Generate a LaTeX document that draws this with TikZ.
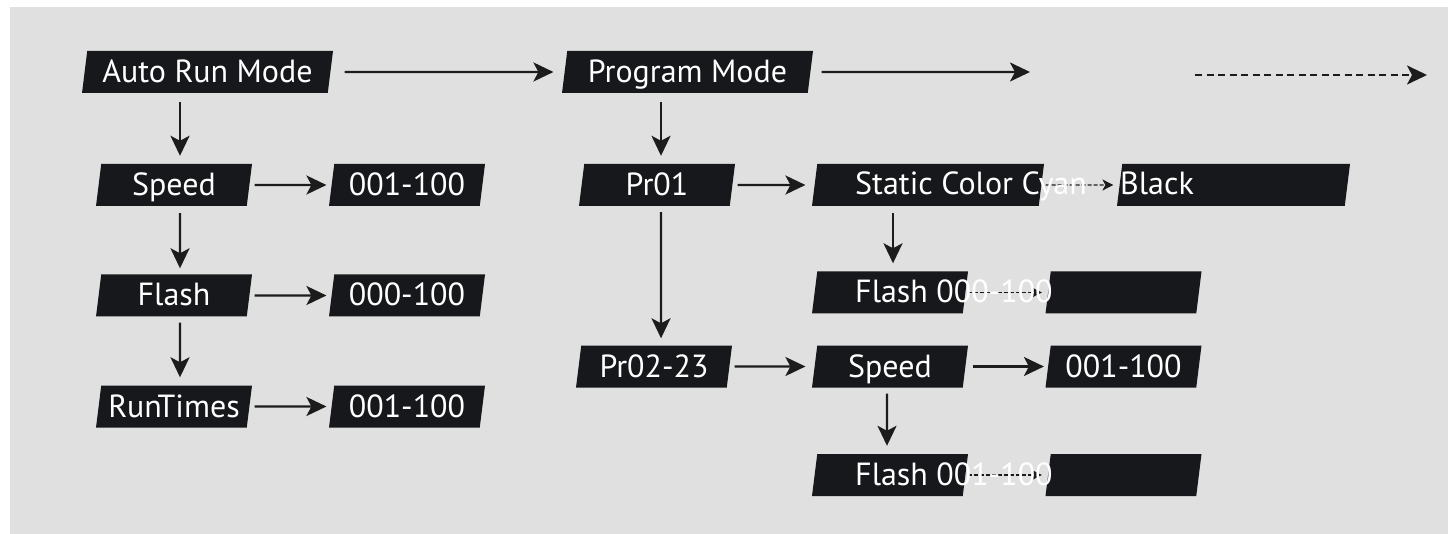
\documentclass[tikz,border=0pt]{standalone}
\usepackage{fontspec}
\setmainfont{PT Sans}
\usetikzlibrary{arrows.meta,shapes.geometric}
\definecolor{bggray}{HTML}{E0E0E0}
\definecolor{boxblack}{HTML}{16181B}
\definecolor{arrowblack}{HTML}{1C1C1C}
\tikzset{
  pbox/.style={trapezium, trapezium left angle=79, trapezium right angle=101,
    trapezium stretches body=true, fill=boxblack, text=white, inner sep=0pt,
    minimum width=156pt, minimum height=42pt,
    font=\fontsize{32}{32}\selectfont, text height=24pt, text depth=3pt},
  ptext/.style={text=white, inner sep=0pt, anchor=west,
    font=\fontsize{32}{32}\selectfont, text height=24pt, text depth=3pt},
  arr/.style={draw=arrowblack, line width=2.3pt,
    -{Stealth[length=20pt,width=19pt,inset=5pt]}},
  minarr/.style={draw=arrowblack, line width=1.4pt, dash pattern=on 4pt off 2pt,
    -{Stealth[length=11pt,width=11pt,inset=3pt]}},
}
\begin{document}
\begin{tikzpicture}[x=1pt, y=-1pt]
    \useasboundingbox (0,0) rectangle (1450,534);
    \fill[white] (0,0) rectangle (1450,534);
    \fill[bggray] (10,7) rectangle (1448,534);
    % auto run column
    \node[pbox, minimum width=251pt] (auto) at (207.5,72) {Auto Run Mode};
    \node[pbox] (spdL) at (174,185) {Speed};
    \node[pbox] (flaL) at (174,295.5) {Flash};
    \node[pbox] (runL) at (174,406.5) {RunTimes};
    \node[pbox] (spdV) at (407,185) {001-100};
    \node[pbox] (flaV) at (407,295.5) {000-100};
    \node[pbox] (runV) at (407,406.5) {001-100};
    % program column
    \node[pbox, minimum width=251pt] (prog) at (687.5,72) {Program Mode};
    \node[pbox] (prA) at (657,185) {Pr01};
    \node[pbox] (prB) at (654,366.5) {Pr02-23};
    \node[pbox, minimum width=232pt] (stat) at (928,185) {};
    \node[pbox, minimum width=233pt] (blk) at (1233.5,185) {};
    \node[pbox] (flaA) at (890,292.5) {};
    \node[pbox] (flaAV) at (1123.5,292.5) {};
    \node[pbox] (spdR) at (890,366.5) {Speed};
    \node[pbox] (spdRV) at (1123.5,366.5) {001-100};
    \node[pbox] (flaB) at (890,475) {};
    \node[pbox] (flaBV) at (1123.5,475) {};
    \coordinate (progEnd) at (1030,72);
    \coordinate (nextA) at (1195,75);
    \coordinate (nextB) at (1427,75);
    % top row
    \draw[arr, shorten <=14pt, shorten >=11pt] (auto) -- (prog);
    \draw[arr, shorten <=11pt] (prog) -- (progEnd);
    \draw[arr, dash pattern=on 7pt off 4.5pt] (nextA) -- (nextB);
    % left arrows
    \draw[arr, shorten <=9pt, shorten >=8pt] ([xshift=6pt]spdL.north |- auto.south) -- ([xshift=6pt]spdL.north);
    \draw[arr, shorten <=7pt, shorten >=6pt] ([xshift=6pt]spdL.south) -- ([xshift=6pt]flaL.north);
    \draw[arr, shorten <=6pt, shorten >=8pt] ([xshift=6pt]flaL.south) -- ([xshift=6pt]runL.north);
    \foreach \a/\b in {spdL/spdV, flaL/flaV, runL/runV}
        \draw[arr, shorten <=5pt, shorten >=5pt] (\a) -- (\b);
    % program arrows
    \draw[arr, shorten <=9pt, shorten >=8pt] ([xshift=4pt]prA.north |- prog.south) -- ([xshift=4pt]prA.north);
    \draw[arr, shorten <=6pt, shorten >=7pt] ([xshift=4pt]prA.south) -- ([xshift=7pt]prB.north);
    \draw[arr, shorten <=5pt, shorten >=9pt] (prA) -- (stat);
    \draw[arr, shorten <=5pt, shorten >=9pt] (prB) -- (spdR);
    \draw[arr, shorten <=7pt, shorten >=4pt] (spdR) -- (spdRV);
    \draw[arr, shorten <=7pt, shorten >=8pt] ([xshift=3pt]flaA.north |- stat.south) -- ([xshift=3pt]flaA.north);
    \draw[arr, shorten <=6pt, shorten >=8pt] ([xshift=-3pt]spdR.south) -- ([xshift=-3pt]flaB.north);
    % small arrows under the texts
    \draw[minarr, shorten <=4pt, shorten >=6pt] (stat) -- (blk);
    \draw[minarr, shorten <=2pt, shorten >=6pt] (flaA) -- (flaAV);
    \draw[minarr, shorten <=2pt, shorten >=6pt] (flaB) -- (flaBV);
    % texts running over the boxes
    \node[ptext] (tStat) at (855,184) {Static Color Cyan};
    \node[ptext] (tBlk) at (1120,184) {Black};
    \node[ptext] (tFlaA) at (855,292.5) {Flash 000-100};
    \node[ptext] (tFlaB) at (855,475) {Flash 001-100};
\end{tikzpicture}
\end{document}
